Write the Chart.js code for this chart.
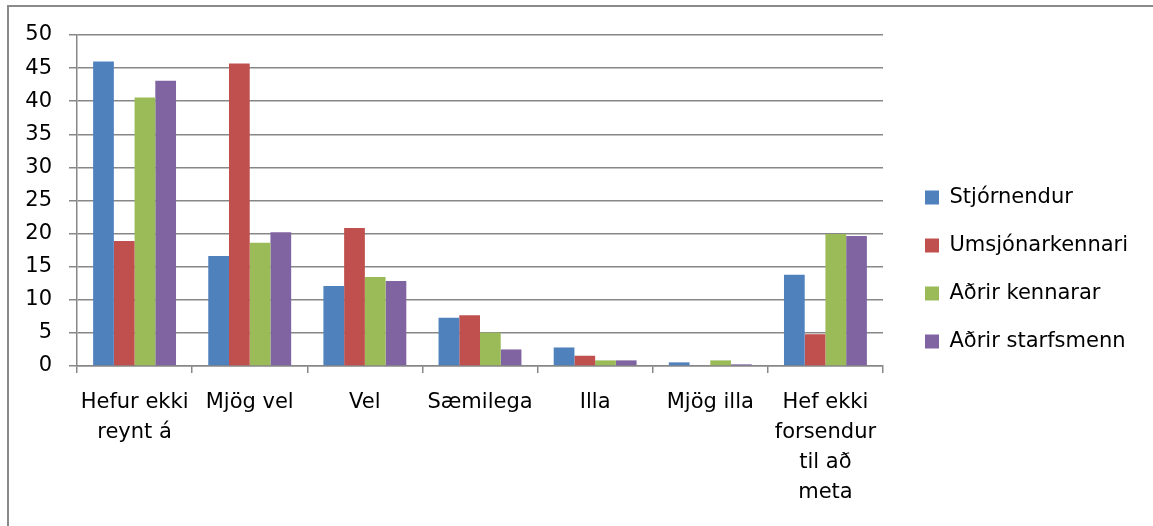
<!DOCTYPE html>
<html><head><meta charset="utf-8">
<script src="https://cdn.jsdelivr.net/npm/chart.js@4/dist/chart.umd.min.js"></script>
<style>
html,body{margin:0;padding:0;background:#fff;overflow:hidden;}
#wrap{position:absolute;left:0;top:0;width:1153px;height:526px;overflow:hidden;}
#frame{position:absolute;left:7px;top:5px;width:1200px;height:600px;border-left:2px solid #8a8a8a;border-top:2px solid #8a8a8a;box-sizing:border-box;pointer-events:none;}
</style></head>
<body>
<div id="wrap"><canvas id="c" width="1153" height="526"></canvas><div id="frame"></div></div>
<script>
const categories = [["Hefur ekki","reynt á"],"Mjög vel","Vel","Sæmilega","Illa","Mjög illa",["Hef ekki","forsendur","til að","meta"]];
const seriesNames = ["Stjórnendur","Umsjónarkennari","Aðrir kennarar","Aðrir starfsmenn"];
const stjornendur = [46.0, 16.6, 12.1, 7.3, 2.8, 0.55, 13.8];
const umsjonarkennari = [18.9, 45.7, 20.85, 7.65, 1.55, 0, 4.8];
const adrirKennarar = [40.55, 18.6, 13.45, 5.05, 0.85, 0.85, 19.95];
const adrirStarfsmenn = [43.1, 20.2, 12.85, 2.5, 0.85, 0.25, 19.65];
const yTicks = [0,5,10,15,20,25,30,35,40,45,50];
const colors = ["#4F81BD","#C0504D","#9BBB59","#8064A2"];

const font = {family:"'DejaVu Sans', sans-serif", size:21};
const data = {
  labels: categories,
  datasets: [stjornendur, umsjonarkennari, adrirKennarar, adrirStarfsmenn].map((d,i)=>({
    label: seriesNames[i], data: d, backgroundColor: colors[i], borderWidth:0,
    categoryPercentage:0.72, barPercentage:1.0
  }))
};
const layoutFix = {
  id:'layoutFix',
  beforeLayout(chart){
    const L = chart.legend;
    if (L && !L._patched){
      const f = L.fit;
      L.fit = function(){ f.call(this); this.width = 270; };
      L._patched = true;
    }
  },
  afterLayout(chart){
    const L = chart.legend;
    if (L){
      const w = L.right - L.left;
      L.left = 898; L.right = 898 + w;
      L.top -= 11; L.bottom -= 11;
    }
  }
};
new Chart(document.getElementById('c'), {
  type:'bar',
  data,
  plugins:[layoutFix],
  options:{
    responsive:false, animation:false,
    layout:{padding:{left:0,top:35,right:0,bottom:0}},
    plugins:{
      legend:{position:'right', align:'center',
        labels:{font, color:'#000', boxWidth:14, boxHeight:14, padding:27}},
      tooltip:{enabled:false}
    },
    scales:{
      x:{
        afterFit: ax => { ax.height = 160; },
        grid:{offset:true, drawOnChartArea:false, drawTicks:true, tickLength:7, color:'#878787', lineWidth:1.5},
        border:{color:'#878787', width:1.5},
        ticks:{font:{...font, lineHeight:1.44}, color:'#000', maxRotation:0, autoSkip:false, padding:14}
      },
      y:{
        min:0, max:50,
        afterFit: ax => { ax.width = 77; },
        afterBuildTicks: ax => { ax.ticks = yTicks.map(v=>({value:v})); },
        grid:{color:'#878787', lineWidth:1.5, tickLength:8},
        border:{color:'#878787', width:1.5},
        ticks:{font, color:'#000', padding:17}
      }
    }
  }
});
</script>
</body></html>
